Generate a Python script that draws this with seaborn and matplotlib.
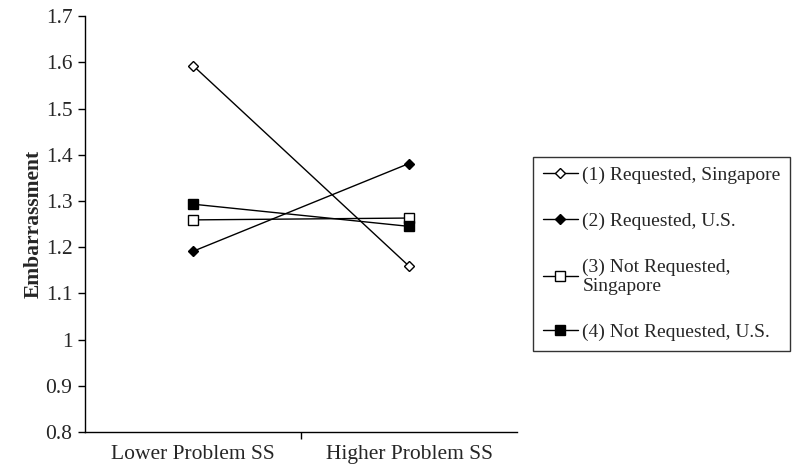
import matplotlib
matplotlib.use("Agg")
import matplotlib.pyplot as plt
import seaborn as sns
import pandas as pd

categories = ["Lower Problem SS", "Higher Problem SS"]
series_names = ["(1) Requested, Singapore", "(2) Requested, U.S.",
                "(3) Not Requested,\nSingapore", "(4) Not Requested, U.S."]
s1 = [1.593, 1.159]
s2 = [1.191, 1.381]
s3 = [1.259, 1.263]
s4 = [1.293, 1.245]
yticks = [0.8, 0.9, 1.0, 1.1, 1.2, 1.3, 1.4, 1.5, 1.6, 1.7]
ytick_labels = ["0.8", "0.9", "1", "1.1", "1.2", "1.3", "1.4", "1.5", "1.6", "1.7"]

sns.set_style("white")
plt.rcParams["font.family"] = ["Liberation Serif", "DejaVu Serif"]

fig = plt.figure(figsize=(8, 4.71), dpi=100)
ax = fig.add_axes([0.10625, 0.0828, 0.54, 0.883])

styles = [
    dict(marker="D", markersize=5, markerfacecolor="white"),
    dict(marker="D", markersize=5, markerfacecolor="black"),
    dict(marker="s", markersize=7, markerfacecolor="white"),
    dict(marker="s", markersize=7, markerfacecolor="black"),
]
data = [s1, s2, s3, s4]
xpos = [0, 1]
for name, vals, st in zip(series_names, data, styles):
    df = pd.DataFrame({"x": xpos, "y": vals})
    sns.lineplot(data=df, x="x", y="y", ax=ax, color="black", linewidth=1.0,
                 markeredgecolor="black", markeredgewidth=1.0, label=name, **st)

fs = 15.5
ax.set_xlim(-0.5, 1.5)
ax.set_ylim(0.8, 1.7)
ax.set_yticks(yticks)
ax.set_yticklabels(ytick_labels, fontsize=fs)
ax.set_xticks([0, 1])
ax.set_xticklabels(categories, fontsize=fs)
ax.set_xticks([0.5], minor=True)
ax.tick_params(axis="x", which="major", length=0, pad=9)
ax.tick_params(axis="x", which="minor", length=5, width=1, color="black", direction="out", bottom=True)
ax.tick_params(axis="y", length=5, width=1, color="black", direction="out", left=True, pad=4)
ax.set_xlabel("")
ax.set_ylabel("Embarrassment", fontsize=fs, fontweight="bold", labelpad=1)
for side in ["top", "right"]:
    ax.spines[side].set_visible(False)
for side in ["left", "bottom"]:
    ax.spines[side].set_color("black")
    ax.spines[side].set_linewidth(1.0)

handles, labels = ax.get_legend_handles_labels()
leg = fig.legend(handles, labels, loc="upper left", bbox_to_anchor=(0.666, 0.667),
                 fontsize=14, frameon=True, fancybox=False, edgecolor="black",
                 handlelength=1.8, handletextpad=0.25, labelspacing=1.45,
                 borderpad=0.5, borderaxespad=0)
leg.get_frame().set_linewidth(1.0)
if ax.get_legend():
    ax.get_legend().remove()

fig.savefig("out.png", dpi=100, facecolor="white")
